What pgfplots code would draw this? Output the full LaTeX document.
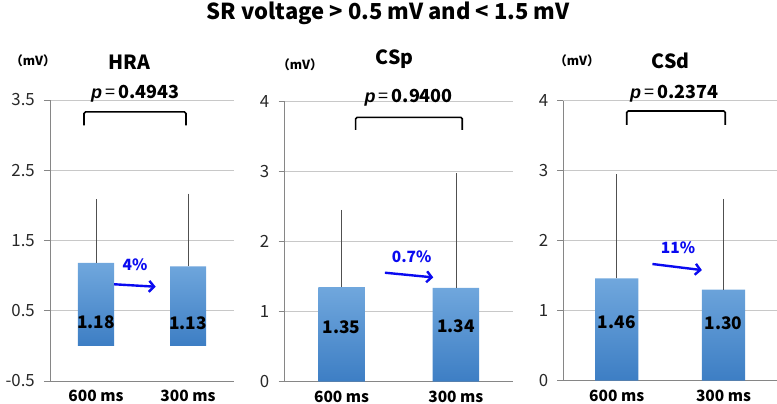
\documentclass[border=0pt]{standalone}
\usepackage{fontspec}
\setmainfont{Noto Sans CJK JP}
\newfontfamily\pitfont{Liberation Sans}
\usepackage{pgfplots}
\pgfplotsset{compat=1.18}
\usetikzlibrary{arrows.meta}
\definecolor{gridc}{RGB}{200,200,200}
\definecolor{axc}{RGB}{134,134,134}
\definecolor{btop}{RGB}{112,167,221}
\definecolor{bmid}{RGB}{82,150,218}
\definecolor{bbot}{RGB}{61,126,196}
\definecolor{ann}{RGB}{10,10,240}
\definecolor{errc}{RGB}{80,80,80}
\definecolor{tickc}{RGB}{40,40,40}
\newcommand{\fs}[1]{\fontsize{#1}{#1}\selectfont}
\newcommand{\pv}[1]{{\pitfont\bfseries\itshape p}\,{\mdseries =}\,#1}
\pgfplotsset{panel/.style={
 scale only axis, anchor=south west, clip=false,
 axis x line*=bottom, axis y line*=left,
 axis line style={draw=axc, line width=0.8pt},
 ymajorgrids, major grid style={draw=gridc, line width=0.8pt},
 xmin=-0.5, xmax=1.5, xtick={0,1}, xticklabels={600 ms,300 ms},
 xtick style={draw=none},
 ytick style={draw=axc, line width=0.8pt},
 tick align=outside, major tick length=6pt,
 xticklabel style={font=\bfseries\fs{15.5}, anchor=base, yshift=-15pt},
 yticklabel style={font=\fs{16.8}, text=tickc, anchor=east, inner sep=0pt, xshift=-9pt},
 ybar, bar shift=0pt,
 error bars/y dir=plus, error bars/y explicit,
 error bars/error bar style={draw=errc, line width=0.6pt},
 error bars/error mark options={draw=errc, mark size=2.5pt, line width=0.6pt},
}}
\tikzset{
 brk/.style={line width=1.6pt, rounded corners=1.5pt},
 arr/.style={draw=ann, line width=2.4pt, -{Straight Barb[length=5pt,width=11pt]}},
 pct/.style={anchor=base, text=ann, font=\bfseries\fs{15.5}},
 val/.style={anchor=base, font=\bfseries\fs{17.3}},
}
\begin{document}
\begin{tikzpicture}
\useasboundingbox (0,0) rectangle (777pt,404pt);
% HRA
\begin{axis}[panel, at={(50pt,23pt)}, width=184pt, height=281pt,
 ymin=-0.5, ymax=3.5, ytick={-0.5,0.5,1.5,2.5,3.5}, yticklabels={-0.5,0.5,1.5,2.5,3.5},
 bar width=36pt]
\addplot[draw=none, top color=btop, middle color=bmid, bottom color=bbot]
 coordinates {(0,1.18) +- (0,0.87) (1,1.13) +- (0,1.00)};
\draw[brk] (axis cs:-0.13,3.14) |- (axis cs:0.978,3.33) -- (axis cs:0.978,3.14);
\draw[arr] (axis cs:0.196,0.877) -- (axis cs:0.649,0.842);
\node[pct] at (axis cs:0.424,1.07) {4\%};
\node[val] at (axis cs:0,0.25) {1.18};
\node[val] at (axis cs:1,0.24) {1.13};
\end{axis}
% CSp
\begin{axis}[panel, at={(284.5pt,22.3pt)}, width=228.5pt, height=280pt,
 ymin=0, ymax=4, ytick={0,1,2,3,4}, yticklabels={0,1,2,3,4},
 bar width=46.7pt]
\addplot[draw=none, top color=btop, middle color=bmid, bottom color=bbot]
 coordinates {(0,1.35) +- (0,1.07) (1,1.34) +- (0,1.60)};
\draw[brk] (axis cs:0.123,3.596) |- (axis cs:1.056,3.777) -- (axis cs:1.056,3.596);
\draw[arr] (axis cs:0.379,1.557) -- (axis cs:0.802,1.49);
\node[pct] at (axis cs:0.613,1.706) {0.7\%};
\node[val] at (axis cs:0,0.69) {1.35};
\node[val] at (axis cs:1,0.70) {1.34};
\end{axis}
% CSd
\begin{axis}[panel, at={(563.3pt,23.3pt)}, width=213.7pt, height=280pt,
 ymin=0, ymax=4, ytick={0,1,2,3,4}, yticklabels={0,1,2,3,4},
 bar width=43.3pt]
\addplot[draw=none, top color=btop, middle color=bmid, bottom color=bbot]
 coordinates {(0,1.46) +- (0,1.45) (1,1.30) +- (0,1.26)};
\draw[brk] (axis cs:0.094,3.653) |- (axis cs:1.016,3.853) -- (axis cs:1.016,3.653);
\draw[arr] (axis cs:0.334,1.667) -- (axis cs:0.797,1.58);
\node[pct] at (axis cs:0.573,1.82) {11\%};
\node[val] at (axis cs:0,0.75) {1.46};
\node[val] at (axis cs:1,0.73) {1.30};
\end{axis}
% titles and labels
\node[anchor=base, font=\bfseries\fs{22}] at (388pt,384.5pt) {SR voltage > 0.5 mV and < 1.5 mV};
\node[anchor=base, font=\bfseries\fs{19.5}] at (129.3pt,334.7pt) {HRA};
\node[anchor=base, font=\bfseries\fs{19.5}] at (394.7pt,339.7pt) {CSp};
\node[anchor=base, font=\bfseries\fs{19.5}] at (670.8pt,335.7pt) {CSd};
\node[anchor=base, font=\bfseries\fs{18}] at (135.3pt,305.7pt) {\pv{0.4943}};
\node[anchor=base, font=\bfseries\fs{18}] at (408.8pt,301.7pt) {\pv{0.9400}};
\node[anchor=base, font=\bfseries\fs{18}] at (674.2pt,305pt) {\pv{0.2374}};
\node[anchor=base, font=\bfseries\fs{12.5}] at (33pt,338pt) {（mV）};
\node[anchor=base, font=\bfseries\fs{12.5}] at (300pt,334pt) {（mV）};
\node[anchor=base, font=\bfseries\fs{12.5}] at (577pt,338pt) {（mV）};
\end{tikzpicture}
\end{document}
